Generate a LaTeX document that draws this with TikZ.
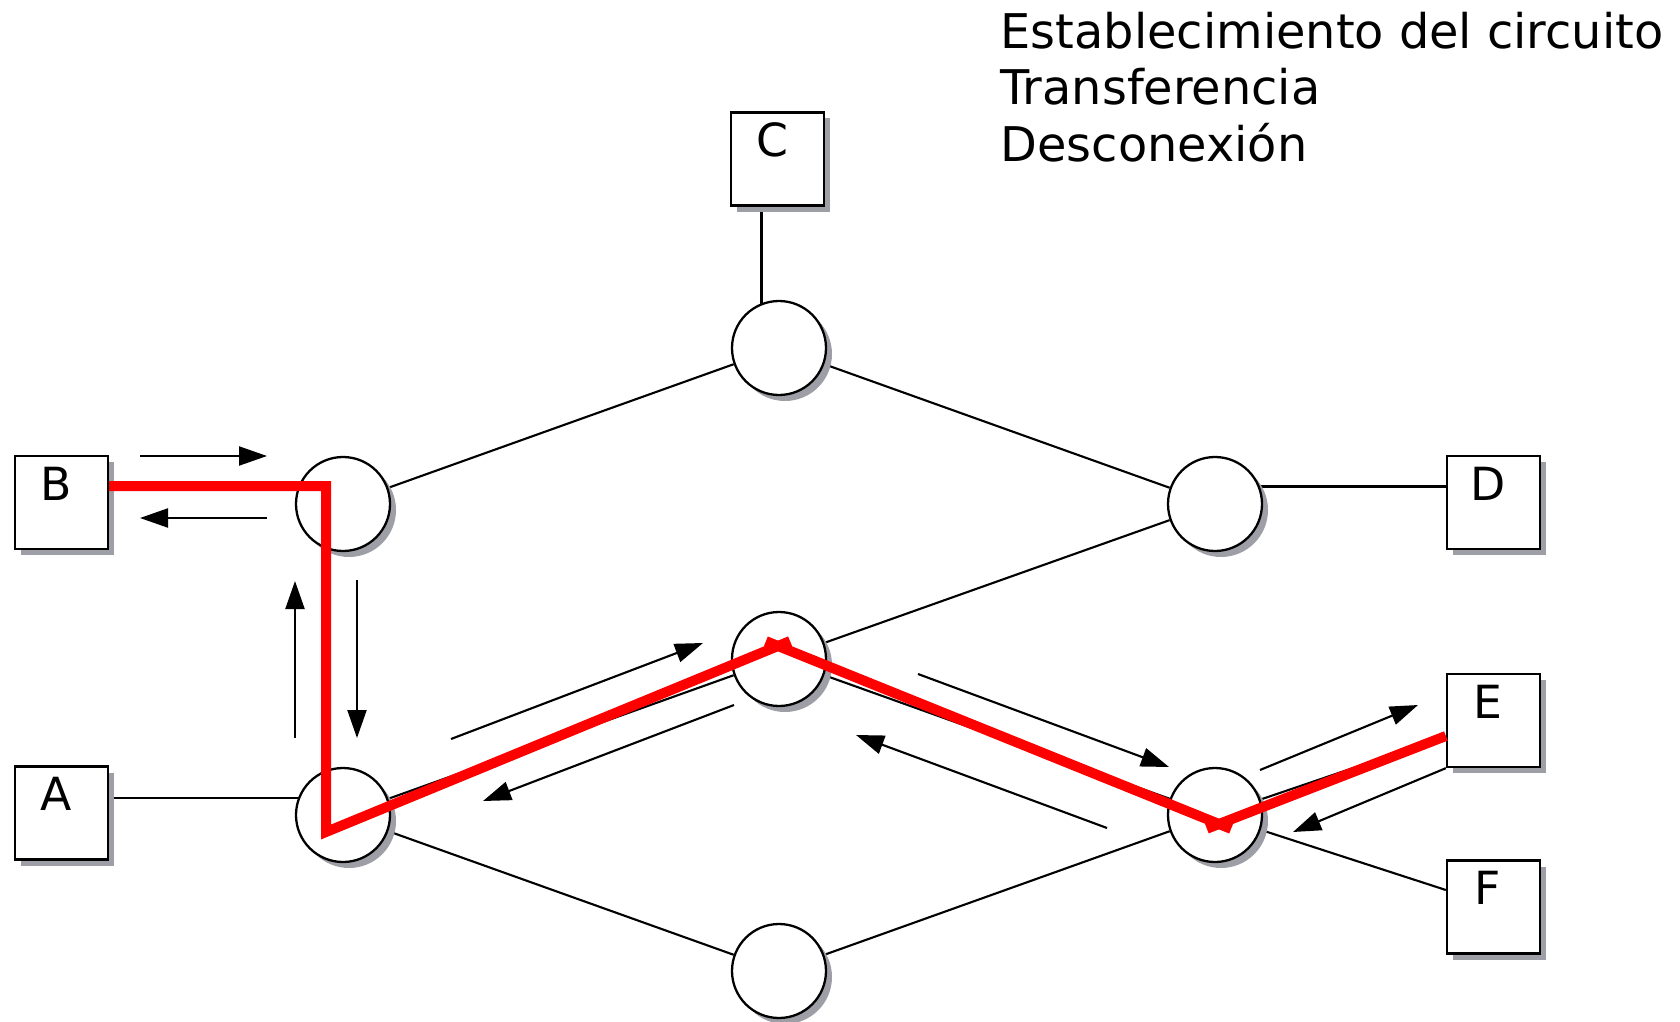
\documentclass[tikz,border=0pt]{standalone}
\usepackage{fontspec}
\setmainfont{DejaVu Sans}
\usepackage{tikz}
\usetikzlibrary{arrows.meta,calc,shadows,backgrounds}
\definecolor{netInk}{RGB}{0,0,0}
\definecolor{netRed}{RGB}{255,0,0}
\definecolor{netShade}{RGB}{158,158,166}
\definecolor{netWhite}{RGB}{255,255,255}
\tikzset{
  netshadow/.style={drop shadow={shadow xshift=0.06cm,shadow yshift=-0.06cm,fill=netShade,opacity=1}},
  netbox/.style={draw=netInk,line width=0.65pt,fill=netWhite,netshadow,minimum width=0.93cm,minimum height=0.93cm,
    inner sep=0pt,text height=0.44cm,text depth=0.49cm,font=\fontsize{13}{15.6}\selectfont,
    execute at end node=\kern0.11cm},
  netnode/.style={circle,draw=netInk,line width=0.65pt,fill=netWhite,netshadow,minimum size=0.94cm,inner sep=0pt},
  netlink/.style={draw=netInk,line width=0.6pt},
  netflow/.style={-{Triangle[length=0.28cm,width=0.19cm]},draw=netInk,line width=0.6pt},
  netroute/.style={draw=netRed,line width=0.1cm},
  nettitle/.style={font=\fontsize{13.6}{16.1}\selectfont,align=left,anchor=north west,inner sep=0pt},
}

\begin{document}
\begin{tikzpicture}[x=1cm,y=1cm]
\useasboundingbox (0,0) rectangle (16.80,10.21);

% Switching nodes.
\node[netnode] (nB) at (3.43,5.17) {};
\node[netnode] (nA) at (3.43,2.06) {};
\node[netnode] (nC) at (7.79,6.73) {};
\node[netnode] (nM) at (7.79,3.62) {};
\node[netnode] (nS) at (7.79,0.50) {};
\node[netnode] (nD) at (12.15,5.17) {};
\node[netnode] (nE) at (12.15,2.06) {};

% Stations.
\node[netbox] (boxB) at (0.615,5.185) {B};
\node[netbox] (boxA) at (0.615,2.080) {A};
\node[netbox] (boxC) at (7.775,8.620) {C};
\node[netbox] (boxD) at (14.935,5.185) {D};
\node[netbox] (boxE) at (14.935,3.005) {E};
\node[netbox] (boxF) at (14.935,1.140) {F};

\node[nettitle] (phases) at (10.00,10.10) {Establecimiento del circuito\\Transferencia\\Desconexión};

% Trunks and access lines.
\begin{scope}[on background layer]
\foreach \from/\to in {nB/nC,nC/nD,nD/nM,nM/nA,nA/nS,nS/nE,nM/nE}
  \draw[netlink] (\from) -- (\to);
\draw[netlink] ([yshift=0.155cm]boxB.east) -- ([yshift=0.155cm]boxB.east -| nB);
\draw[netlink] ([yshift=0.15cm]boxA.east) -- ([yshift=0.15cm]boxA.east -| nA);
\draw[netlink] ([xshift=-0.16cm]boxC.south) -- ([xshift=-0.16cm]boxC.south |- nC);
\draw[netlink] ([yshift=0.16cm]boxD.west) -- ([yshift=0.16cm]boxD.west -| nD);
\draw[netlink] (nE.center) -- ([yshift=-0.16cm]boxE.west);
\draw[netlink] (nE.center) -- ([yshift=0.17cm]boxF.west);
\end{scope}

% Signalling arrows.
\draw[netflow] (1.40,5.65) -- (2.67,5.65);
\draw[netflow] (2.67,5.03) -- (1.40,5.03);
\draw[netflow] (2.95,2.83) -- (2.95,4.40);
\draw[netflow] (3.57,4.41) -- (3.57,2.83);
\draw[netflow] (4.51,2.82) -- (7.03,3.78);
\draw[netflow] (7.34,3.16) -- (4.83,2.20);
\draw[netflow] (9.18,3.47) -- (11.69,2.54);
\draw[netflow] (11.07,1.93) -- (8.56,2.86);
\draw[netflow] (12.60,2.51) -- (14.18,3.16);
\draw[netflow] (boxE.south west) -- (12.93,1.89);

% Established circuit B -> E.
\coordinate (rTop) at ($(nB)+(-0.17,0.18)$);
\coordinate (rLow) at ($(nA)+(-0.17,-0.17)$);
\coordinate (rMid) at ($(nM)+(-0.01,0.13)$);
\coordinate (rDip) at ($(nE)+(0.04,-0.09)$);
\draw[netroute,shorten >=-0.13cm] ([yshift=0.165cm]boxB.east) -- (rTop) -- (rLow) -- (rMid);
\draw[netroute,shorten <=-0.13cm,shorten >=-0.13cm] (rMid) -- (rDip);
\draw[netroute,shorten <=-0.13cm] (rDip) -- ([yshift=-0.155cm]boxE.west);
\end{tikzpicture}
\end{document}
